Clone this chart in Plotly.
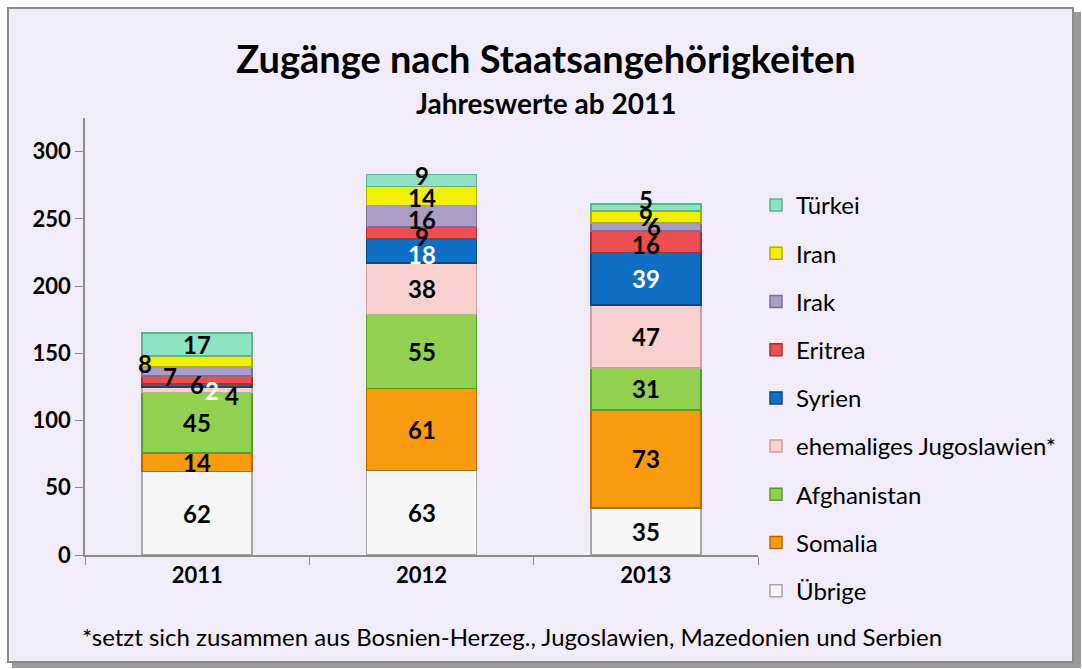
import plotly.graph_objects as go

years = ["2011", "2012", "2013"]
series_names = ["Übrige", "Somalia", "Afghanistan", "ehemaliges Jugoslawien*",
                "Syrien", "Eritrea", "Irak", "Iran", "Türkei"]
uebrige = [62, 63, 35]
somalia = [14, 61, 73]
afghanistan = [45, 55, 31]
jugoslawien = [4, 38, 47]
syrien = [2, 18, 39]
eritrea = [6, 9, 16]
irak = [7, 16, 6]
iran = [8, 14, 9]
tuerkei = [17, 9, 5]
y_ticks = [0, 50, 100, 150, 200, 250, 300]

series_values = [uebrige, somalia, afghanistan, jugoslawien, syrien,
                 eritrea, irak, iran, tuerkei]

fill_colors = ["#F7F7F7", "#F89B0E", "#92D050", "#F9D0D0", "#0E6FC4",
               "#EC4F4F", "#A99DC6", "#F0F000", "#8EE3C2"]
edge_colors = ["#A8A8A8", "#B86A00", "#5F9A30", "#C9A3A3", "#0A4A88",
               "#A83232", "#77709A", "#AFAF00", "#5AB592"]
label_colors = ["black", "black", "black", "black", "white",
                "black", "black", "black", "black"]

# label offsets (pixels) for crowded segments: (series index, year index) -> (dx, dy)
label_shift = {
    (7, 0): (-52, -2), (6, 0): (-27, -5), (5, 0): (0, -4),
    (4, 0): (15, -5), (3, 0): (35, -6),
    (8, 1): (0, 5), (7, 1): (0, -2), (6, 1): (0, -3), (5, 1): (0, -4), (4, 1): (0, -3),
    (8, 2): (0, 8), (7, 2): (0, 0), (6, 2): (8, 0), (5, 2): (0, -3),
}

W, H = 1082, 669
L, R, T, B = 85, 324, 118, 114
PW, PH = W - L - R, H - T - B


def px(x):
    return (x - L) / PW


def py(y):
    return (H - B - y) / PH


FONT = "Lato"
fig = go.Figure()
n = len(series_names)
for i, (name, vals) in enumerate(zip(series_names, series_values)):
    fig.add_trace(go.Bar(
        x=years, y=vals, name=name,
        marker=dict(color=fill_colors[i], line=dict(color=edge_colors[i], width=1.5)),
        width=0.49, legendgroup=name, legendrank=100 + (n - i),
    ))

annotations = []
for j, yr in enumerate(years):
    base = 0
    for i, vals in enumerate(series_values):
        v = vals[j]
        dx, dy = label_shift.get((i, j), (0, 0))
        annotations.append(dict(
            x=j, y=base + v / 2, text=str(v), showarrow=False,
            xref="x", yref="y", xshift=dx, yshift=dy,
            font=dict(family=FONT, size=24, color=label_colors[i], weight="bold"),
        ))
        base += v

annotations.append(dict(
    x=px(546), y=py(103), xref="paper", yref="paper", showarrow=False,
    text="<b>Jahreswerte ab 2011</b>", xanchor="center", yanchor="middle",
    font=dict(family=FONT, size=28, color="black"),
))
annotations.append(dict(
    x=px(80), y=py(636), xref="paper", yref="paper", showarrow=False,
    text="*setzt sich zusammen aus Bosnien-Herzeg., Jugoslawien, Mazedonien und Serbien",
    xanchor="left", yanchor="middle",
    font=dict(family=FONT, size=24, color="black"),
))

shapes = [
    # shadow
    dict(type="rect", xref="paper", yref="paper", layer="below",
         x0=px(12), x1=px(1081), y0=py(668), y1=py(12),
         fillcolor="#9A9A9A", line=dict(width=0)),
    # frame
    dict(type="rect", xref="paper", yref="paper", layer="below",
         x0=px(8), x1=px(1073), y0=py(662), y1=py(8),
         fillcolor="#F1ECF8", line=dict(color="#8C8C8C", width=2)),
]

fig.update_layout(
    width=W, height=H,
    margin=dict(l=L, r=R, t=T, b=B, autoexpand=False),
    paper_bgcolor="white",
    plot_bgcolor="rgba(0,0,0,0)",
    barmode="stack",
    bargap=0.51,
    title=dict(text="<b>Zugänge nach Staatsangehörigkeiten</b>",
               x=px(546), xref="paper", xanchor="center",
               y=1 - 60 / H, yref="container", yanchor="middle",
               font=dict(family=FONT, size=38, color="black")),
    xaxis=dict(
        type="category", range=[-0.5, 2.5],
        showline=True, linecolor="#8C8C8C", linewidth=1.5,
        ticks="outside", ticklen=8, tickcolor="#8C8C8C", tickson="boundaries",
        tickfont=dict(family=FONT, size=22, color="black", weight="bold"),
        showgrid=False, zeroline=False,
    ),
    yaxis=dict(
        range=[0, 325], tickvals=y_ticks,
        showline=True, linecolor="#8C8C8C", linewidth=1.5,
        ticks="outside", ticklen=8, tickcolor="#8C8C8C",
        tickfont=dict(family=FONT, size=22, color="black", weight="bold"),
        showgrid=False, zeroline=False,
    ),
    legend=dict(
        x=px(756), y=py(183), xanchor="left", yanchor="top",
        xref="paper", yref="paper",
        traceorder="grouped", tracegroupgap=14, maxheight=650,
        bgcolor="rgba(0,0,0,0)",
        font=dict(family=FONT, size=24, color="black"),
    ),
    annotations=annotations,
    shapes=shapes,
    showlegend=True,
)

fig.write_html("out.html", config={"displayModeBar": False},
               post_script="document.body.style.margin='0';document.body.style.overflow='hidden';")
